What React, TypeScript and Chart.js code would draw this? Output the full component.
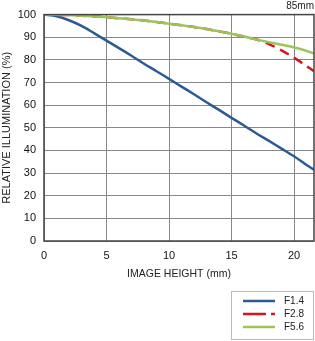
import React, { useEffect, useRef } from "react";
import { Chart, registerables } from "chart.js";

Chart.register(...registerables);

const imageHeights = [0, 1, 2, 3, 4, 5, 6, 7, 8, 9, 10, 11, 12, 13, 14, 15, 16, 17, 18, 19, 20, 21, 21.6];
const f14 = [100, 99.3, 97.5, 95, 91.8, 88.5, 85.2, 81.8, 78.3, 75, 71.6, 68.2, 64.8, 61.3, 57.9, 54.4, 51, 47.5, 44.2, 40.8, 37.4, 33.6, 31.5];
const f28 = [100, 99.9, 99.8, 99.5, 99.2, 98.8, 98.4, 97.9, 97.4, 96.7, 96, 95.3, 94.5, 93.6, 92.6, 91.5, 90.3, 89, 87, 84.2, 81, 77.3, 75];
const f56 = [100, 99.9, 99.8, 99.5, 99.2, 98.8, 98.4, 97.9, 97.4, 96.7, 96, 95.3, 94.5, 93.6, 92.6, 91.5, 90.3, 89, 87.8, 86.7, 85.6, 84, 82.8];
const xTicks = [0, 5, 10, 15, 20];
const seriesLabels = ["F1.4", "F2.8", "F5.6"];
const seriesColors = ["#2c5a94", "#d0191c", "#9cc45a"];
const focalLabel = "85mm";

const FONT = "'Liberation Sans', Arial, sans-serif";

const extrasPlugin = {
  id: "extras",
  afterDatasetsDraw(chart: any) {
    const { ctx, chartArea } = chart;
    ctx.save();
    ctx.strokeStyle = "#444";
    ctx.lineWidth = 1.5;
    ctx.strokeRect(chartArea.left, chartArea.top, chartArea.right - chartArea.left, chartArea.bottom - chartArea.top);
    ctx.fillStyle = "#222";
    ctx.font = "10px " + FONT;
    ctx.textAlign = "right";
    ctx.textBaseline = "middle";
    ctx.fillText(focalLabel, 314, 6);
    const bx = 231.5, by = 291.5, bw = 82, bh = 48;
    ctx.strokeStyle = "#bbb";
    ctx.lineWidth = 1;
    ctx.strokeRect(bx, by, bw, bh);
    const rowY = [301, 314, 327];
    ctx.textAlign = "left";
    ctx.font = "10px " + FONT;
    seriesLabels.forEach((lab, i) => {
      ctx.strokeStyle = seriesColors[i];
      ctx.lineWidth = 2.5;
      ctx.setLineDash(i === 1 ? [23, 5, 5, 5] : []);
      ctx.beginPath();
      ctx.moveTo(243, rowY[i]);
      ctx.lineTo(275, rowY[i]);
      ctx.stroke();
      ctx.setLineDash([]);
      ctx.fillStyle = "#222";
      ctx.fillText(lab, 284, rowY[i] + 0.5);
    });
    ctx.restore();
  },
};

export default function App() {
  const ref = useRef<HTMLCanvasElement | null>(null);
  useEffect(() => {
    if (!ref.current) return;
    const data = [f14, f28, f56];
    const chart = new Chart(ref.current, {
      type: "line",
      data: {
        datasets: seriesLabels.map((lab, i) => ({
          label: lab,
          data: imageHeights.map((x, j) => ({ x, y: data[i][j] })),
          borderColor: seriesColors[i],
          borderWidth: 2.5,
          borderDash: i === 1 ? [10, 6] : [],
          pointRadius: 0,
          tension: 0.3,
          fill: false,
          order: i === 2 ? 0 : i === 1 ? 1 : 2,
        })),
      },
      options: {
        animation: false,
        responsive: false,
        maintainAspectRatio: false,
        layout: { padding: { top: 14, right: 1, bottom: 61, left: 0 } },
        plugins: { legend: { display: false }, tooltip: { enabled: false } },
        scales: {
          x: {
            type: "linear",
            min: 0,
            max: 21.6,
            afterBuildTicks: (scale: any) => {
              scale.ticks = xTicks.map((v) => ({ value: v }));
            },
            afterFit: (scale: any) => {
              scale.height = 39;
            },
            grid: { color: "#888", lineWidth: 1, drawTicks: false },
            border: { display: false },
            ticks: { color: "#111", font: { family: FONT, size: 11 }, padding: 8, maxRotation: 0 },
            title: {
              display: true,
              text: "IMAGE HEIGHT (mm)",
              color: "#222",
              font: { family: FONT, size: 10.5 },
              padding: { top: 0, bottom: 0 },
            },
          },
          y: {
            min: 0,
            max: 100,
            ticks: { stepSize: 10, color: "#111", font: { family: FONT, size: 11 }, padding: 8 },
            afterFit: (scale: any) => {
              scale.width = 44;
            },
            grid: { color: "#888", lineWidth: 1, drawTicks: false },
            border: { display: false },
            title: {
              display: true,
              text: "RELATIVE ILLUMINATION (%)",
              color: "#222",
              font: { family: FONT, size: 11 },
              padding: { top: 0, bottom: 0 },
            },
          },
        },
      },
      plugins: [extrasPlugin],
    });
    return () => chart.destroy();
  }, []);
  return (
    <div style={{ position: "fixed", left: 0, top: 0, width: 315, height: 341, background: "#fff" }}>
      <canvas ref={ref} width={315} height={341} style={{ width: 315, height: 341, display: "block" }} />
    </div>
  );
}
